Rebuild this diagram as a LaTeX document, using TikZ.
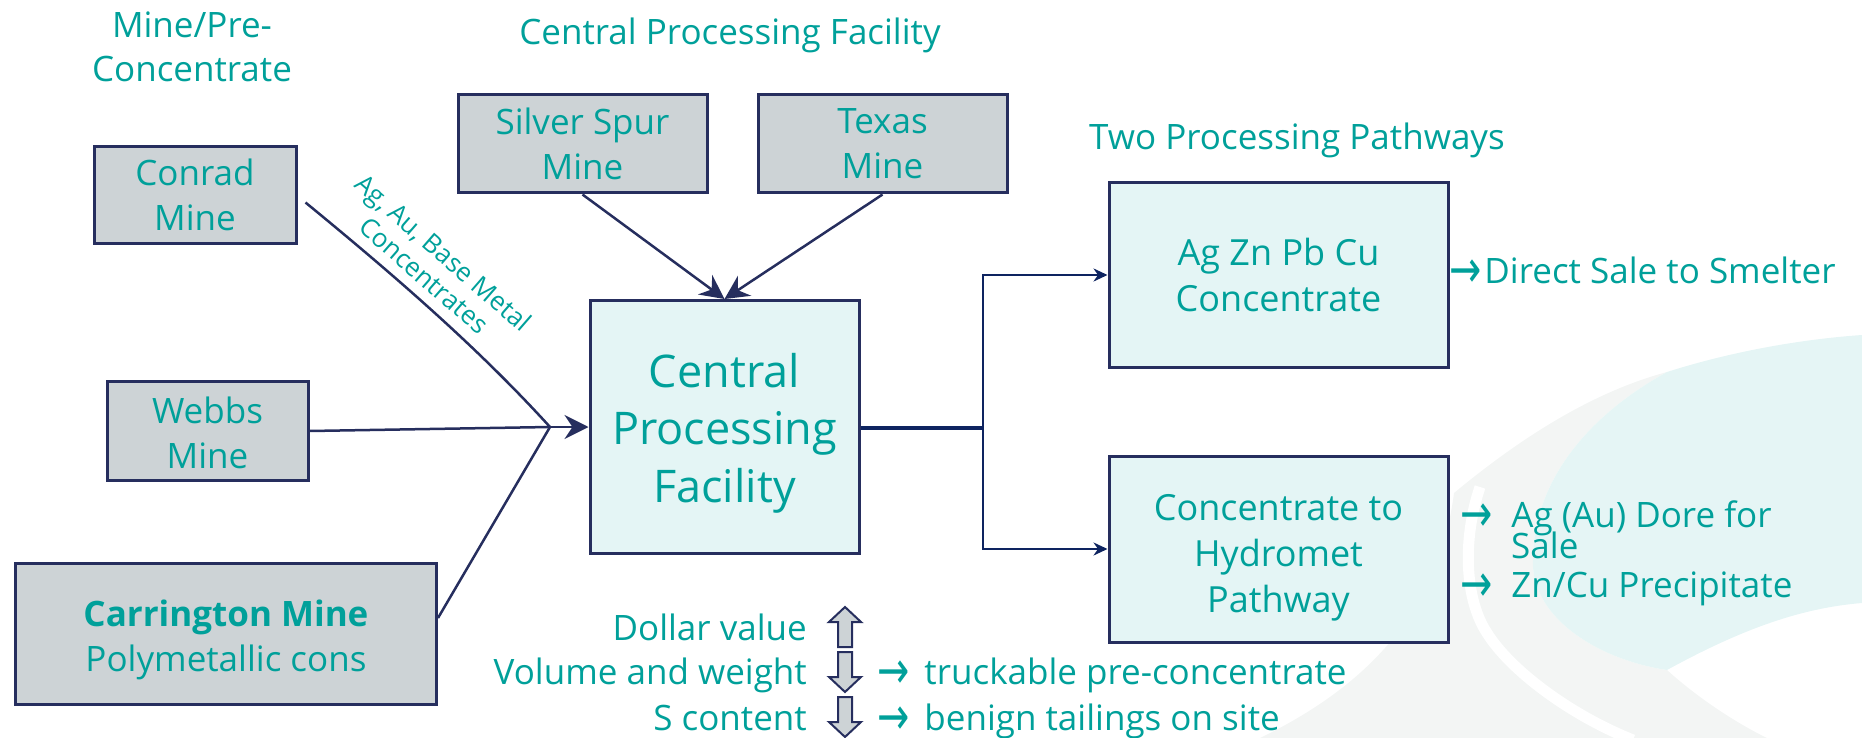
\documentclass[tikz,border=0pt]{standalone}
\usepackage{fontspec}
\setmainfont{Open Sans}
\newfontfamily\arrowfont{DejaVu Sans}
\usetikzlibrary{arrows.meta}
\definecolor{txtteal}{RGB}{0,160,154}
\definecolor{linenavy}{RGB}{38,46,94}
\definecolor{pathnavy}{RGB}{14,36,96}
\definecolor{minegray}{RGB}{205,211,214}
\definecolor{facmint}{RGB}{228,245,245}
\definecolor{swooshmint}{RGB}{229,245,245}
\definecolor{swooshgray}{RGB}{243,245,244}
\newcommand{\prodarrow}{\raisebox{-4pt}{\scalebox{1.1}[1.5]{\arrowfont →}}}
\tikzstyle{minebox}=[draw=linenavy, line width=3pt, fill=minegray, text=txtteal, align=center, inner sep=0pt, font=\fontsize{35}{45}\selectfont]
\tikzstyle{stepbox}=[draw=linenavy, line width=3pt, fill=facmint, text=txtteal, align=center, inner sep=0pt, font=\fontsize{36}{46}\selectfont]
\tikzstyle{heading}=[text=txtteal, align=center, inner sep=0pt, font=\fontsize{35}{44}\selectfont]
\tikzstyle{sidetext}=[text=txtteal, inner sep=0pt, font=\fontsize{35}{44}\selectfont]
\tikzstyle{feed}=[draw=linenavy, line width=2.5pt]
\tikzstyle{pathline}=[draw=pathnavy, line width=2.5pt]
\tikzstyle{blockarr}=[draw=linenavy, line width=2pt, fill=minegray, line join=miter]

\begin{document}
\begin{tikzpicture}[x=1pt,y=-1pt]
            \useasboundingbox (0,0) rectangle (1862,738);
            % Fondo
            \fill[swooshgray] (1260,738) .. controls (1380,680) and (1440,600) .. (1454,493) .. controls (1530,430) and (1600,390) .. (1667,372) .. controls (1580,420) and (1530,490) .. (1533,567) .. controls (1536,620) and (1600,660) .. (1667,670) .. controls (1700,700) and (1740,725) .. (1767,738) -- cycle;
            \draw[white, line width=11pt] (1480,487) .. controls (1462,540) and (1465,600) .. (1487,633) .. controls (1510,670) and (1570,715) .. (1633,740);
            \fill[swooshmint] (1862,335) .. controls (1790,340) and (1720,355) .. (1667,372) .. controls (1580,420) and (1530,490) .. (1533,567) .. controls (1536,620) and (1600,660) .. (1667,670) .. controls (1740,630) and (1800,608) .. (1862,603) -- cycle;
            % Titulos
            \node[heading] (minehead) at (192,47) {Mine/Pre-\\Concentrate};
            \node[heading, anchor=base] (cpfhead) at (730,45) {Central Processing Facility};
            \node[heading, anchor=base] (pathhead) at (1297,150) {Two Processing Pathways};
            % Minas
            \node[minebox, minimum width=202pt, minimum height=97pt] (conrad) at (195,195) {Conrad\\Mine};
            \node[minebox, minimum width=201pt, minimum height=99pt] (webbs) at (207.5,431) {\rule{0pt}{30pt}Webbs\\Mine};
            \node[minebox, minimum width=421pt, minimum height=141pt] (carr) at (226,634) {\rule{0pt}{38pt}\textbf{Carrington Mine}\\Polymetallic cons};
            \node[minebox, minimum width=249pt, minimum height=98pt] (silver) at (582.5,144) {Silver Spur\\Mine};
            \node[minebox, minimum width=249pt, minimum height=98pt] (texas) at (882.5,144) {Texas\\Mine};
            % Planta central y rutas
            \node[stepbox, minimum width=269pt, minimum height=253pt, font=\fontsize{45}{57.5}\selectfont] (central) at (724.5,427) {\rule{0pt}{46pt}Central\\Processing\\Facility};
            \node[stepbox, minimum width=339pt, minimum height=185pt] (agzn) at (1278.5,275) {Ag Zn Pb Cu\\Concentrate};
            \node[stepbox, minimum width=339pt, minimum height=186pt] (hydro) at (1278.5,549) {\rule{0pt}{43pt}Concentrate to\\Hydromet\\Pathway};
            \node[text=txtteal, align=center, inner sep=0pt, font=\fontsize{26}{30}\selectfont, rotate=-41] (conclabel) at (434,264) {Ag, Au, Base Metal\\Concentrates};
            % Conexiones
            \coordinate (jn) at (550,427);
            \coordinate (split) at (983,428);
            \draw[feed] ([xshift=8pt,yshift=-7.5pt]conrad.east) .. controls (400,280) and (480,350) .. (jn);
            \draw[feed] (webbs.east) -- (jn);
            \draw[feed] ([yshift=16pt]carr.east) -- (jn);
            \draw[feed, -{Stealth[length=24pt,width=24pt,inset=8pt]}] (jn) -- (central.west);
            \draw[feed, -{Stealth[length=24pt,width=24pt,inset=8pt]}] (silver.south) -- (central.north);
            \draw[feed, -{Stealth[length=24pt,width=24pt,inset=8pt]}] (texas.south) -- (central.north);
            \draw[pathline, line width=4pt] (central.east |- split) -- (split);
            \draw[pathline, -{Stealth[length=14pt,width=13pt]}] (split) |- (agzn.west);
            \draw[pathline, -{Stealth[length=14pt,width=13pt]}] (split) |- (hydro.west);
            % Productos
            \node[sidetext, anchor=base west] (smelter) at (1449,283) {\prodarrow\hspace{3pt}Direct Sale to Smelter};
            \node[sidetext, anchor=base west] (dore) at (1460,527) {\prodarrow\hspace{19pt}Ag (Au) Dore for};
            \node[sidetext, anchor=base west] (sale) at (1511,558) {Sale};
            \node[sidetext, anchor=base west] (zncu) at (1460,597) {\prodarrow\hspace{19pt}Zn/Cu Precipitate};
            % Leyenda
            \node[sidetext, anchor=base east] (dollar) at (807,640) {Dollar value};
            \node[sidetext, anchor=base east] (volume) at (807,684) {Volume and weight};
            \node[sidetext, anchor=base east] (sulfur) at (807,730) {S content};
            \node[sidetext, anchor=base west] (truck) at (877,684) {\prodarrow\hspace{15pt}truckable pre-concentrate};
            \node[sidetext, anchor=base west] (benign) at (877,730) {\prodarrow\hspace{15pt}benign tailings on site};
            \draw[blockarr, shift={(845,627)}] (-7,20) -- (-7,-5) -- (-16,-5) -- (0,-20) -- (16,-5) -- (7,-5) -- (7,20) -- cycle;
            \draw[blockarr, shift={(845,672)}] (-7,-20) -- (-7,5) -- (-16,5) -- (0,20) -- (16,5) -- (7,5) -- (7,-20) -- cycle;
            \draw[blockarr, shift={(845,717)}] (-7,-20) -- (-7,5) -- (-16,5) -- (0,20) -- (16,5) -- (7,5) -- (7,-20) -- cycle;
\end{tikzpicture}
\end{document}
